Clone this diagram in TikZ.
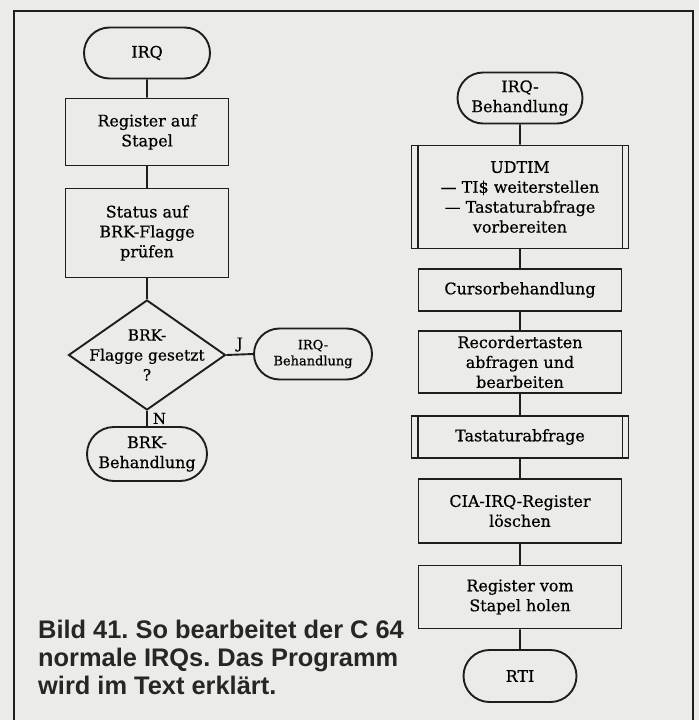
\documentclass[tikz,border=0pt]{standalone}
\usepackage{fontspec}
\setmainfont{DejaVu Serif}[BoldFont={DejaVu Serif}, BoldFeatures={FakeBold=0.6}]
\newfontfamily\capfont{Liberation Sans}
\usetikzlibrary{shapes.geometric,shapes.misc}

\definecolor{paper}{HTML}{EBEBE8}
\definecolor{ink}{HTML}{1E1E1E}
\definecolor{capgray}{HTML}{262626}

\tikzset{
    line/.style={draw=ink, line width=1.9bp},
    box/.style={line, rectangle, align=center, inner sep=0pt, minimum width=203bp,
        font=\bfseries\fontsize{16}{20}\selectfont},
    subbox/.style={box, minimum width=217bp},
    term/.style={line, rounded rectangle, align=center, inner sep=0pt,
        font=\bfseries\fontsize{16}{20}\selectfont},
    dec/.style={line, diamond, inner sep=0pt, minimum width=157bp, minimum height=110bp},
    lbl/.style={font=\bfseries\fontsize{15}{18}\selectfont, inner sep=2bp}
}

\begin{document}
\frenchspacing
\begin{tikzpicture}[x=1bp, y=-1bp]
    \fill[paper] (0,0) rectangle (699,720);
    \useasboundingbox (0,0) rectangle (699,720);
    \draw[line, line width=2.2bp] (14,720) -- (14,11) -- (693,11) -- (693,720);

    \node[term, minimum width=126bp, minimum height=51bp] (irq) at (147,53) {IRQ};
    \node[box, minimum width=163bp, minimum height=67bp] (reg) at (147,132) {Register auf\\Stapel};
    \node[box, minimum width=163bp, minimum height=89bp] (stat) at (147,233) {Status auf\\BRK-Flagge\\prüfen};
    \node[dec] (brk) at (147,355) {};
    \node[font=\bfseries\fontsize{15.5}{20}\selectfont, align=center, inner sep=0pt] (brktxt) at (brk) {BRK-\\Flagge gesetzt\\?};
    \node[term, minimum width=118bp, minimum height=51bp, font=\bfseries\fontsize{13}{16}\selectfont] (irqs) at (313,354) {IRQ-\\Behandlung};
    \node[term, minimum width=120bp, minimum height=54bp] (brkb) at (147,454) {BRK-\\Behandlung};

    \draw[line] (irq) -- (reg);
    \draw[line] (reg) -- (stat);
    \draw[line] (stat) -- (brk);
    \draw[line] (brk.east) -- node[lbl, above] {J} (irqs.west);
    \draw[line] (brk.south) -- node[lbl, right, inner sep=5bp] {N} (brkb.north);

    \node[term, minimum width=125bp, minimum height=51bp] (irqb) at (520,98) {IRQ-\\Behandlung};
    \node[subbox, minimum height=103bp] (udtim) at (520,197) {UDTIM\\— TI\$ weiterstellen\\— Tastaturabfrage\\vorbereiten};
    \node[box, minimum height=42bp] (cursor) at (520,290) {Cursorbehandlung};
    \node[box, minimum height=62bp] (rec) at (520,362) {Recordertasten\\abfragen und\\bearbeiten};
    \node[subbox, minimum height=42bp] (tast) at (520,437) {Tastaturabfrage};
    \node[box, minimum height=64bp] (cia) at (520,511) {CIA-IRQ-Register\\löschen};
    \node[box, minimum height=63bp] (regst) at (520,597) {Register vom\\Stapel holen};
    \node[term, minimum width=113bp, minimum height=52bp] (rti) at (520,676) {RTI};

    \foreach \a/\b in {irqb/udtim, udtim/cursor, cursor/rec, rec/tast, tast/cia, cia/regst, regst/rti}
        \draw[line] (\a) -- (\b);
    \foreach \n in {udtim, tast} {
        \draw[line] ([xshift=7bp]\n.north west) -- ([xshift=7bp]\n.south west);
        \draw[line] ([xshift=-7bp]\n.north east) -- ([xshift=-7bp]\n.south east);
    }

    \node[anchor=base west, align=left, inner sep=0pt, text=capgray,
        font=\capfont\bfseries\fontsize{25.5}{28}\selectfont] (cap) at (38,694)
        {Bild 41. So bearbeitet der C 64\\normale IRQs. Das Programm\\wird im Text erklärt.};
\end{tikzpicture}
\end{document}
